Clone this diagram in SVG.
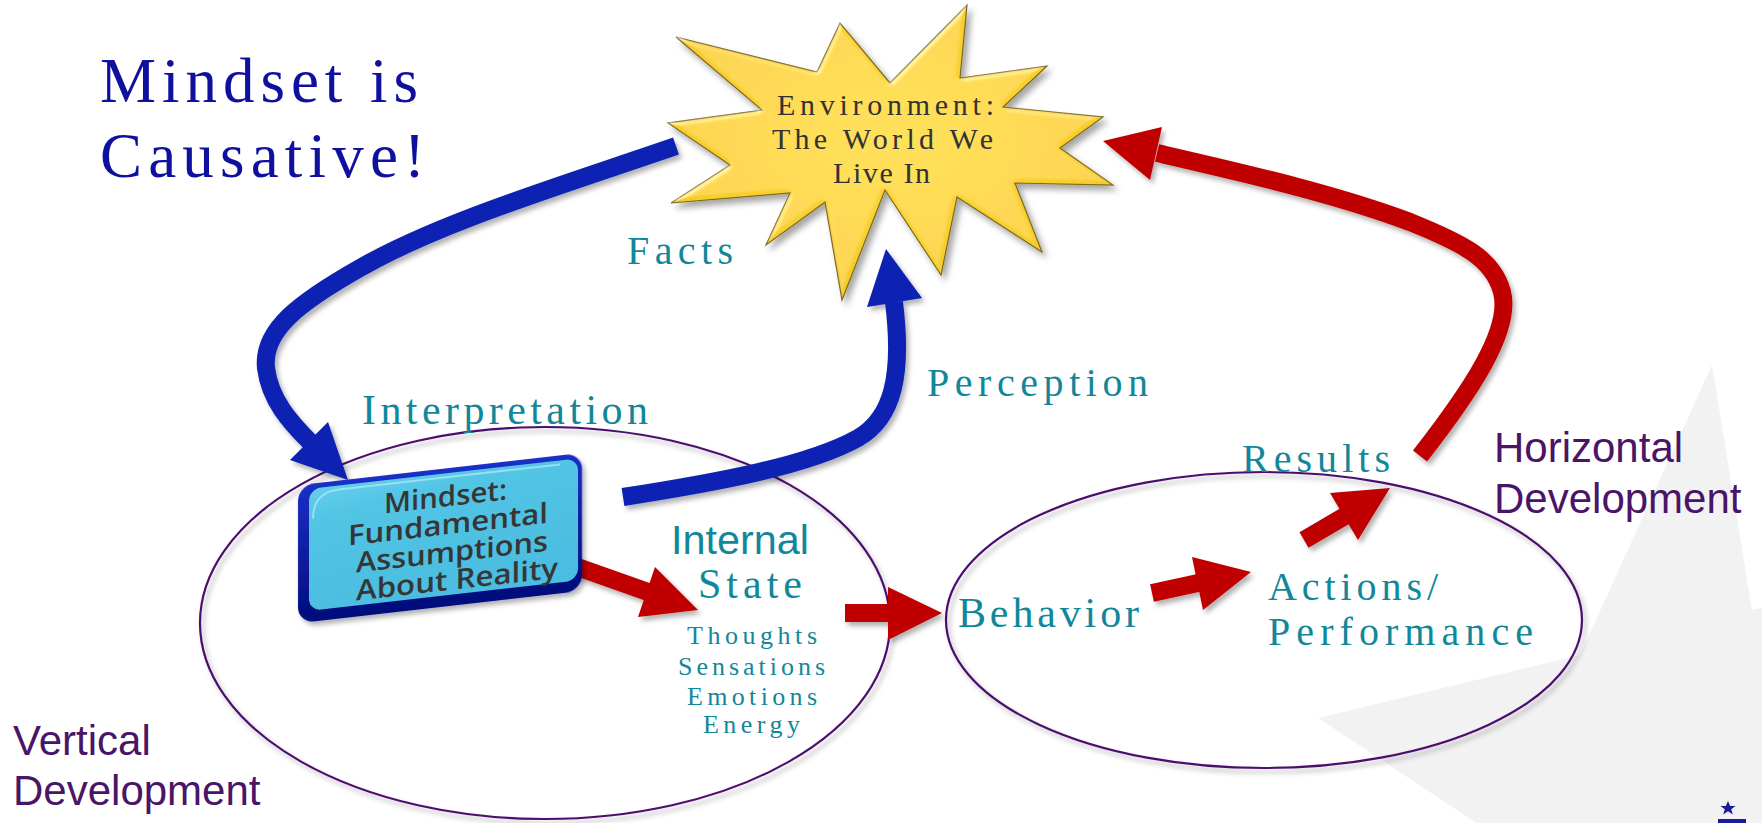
<svg xmlns="http://www.w3.org/2000/svg" width="1762" height="823" viewBox="0 0 1762 823">
  <defs>
    <style>
      .serif { font-family: "Liberation Serif", "Times New Roman", serif; }
      .sans { font-family: "Liberation Sans", Arial, sans-serif; }
      .title { fill: #10109e; font-size: 63px; }
      .teal { fill: #12879a; }
      .dev { fill: #4a1468; font-size: 42px; }
      .ring { fill: none; stroke: #4b0f6e; stroke-width: 2.2; filter: url(#soft); }
      .blue { fill: none; stroke: #0a22b2; stroke-width: 18; stroke-linecap: butt; }
      .blueHead { fill: #0a22b2; }
      .red { fill: none; stroke: #c00000; stroke-width: 18; stroke-linecap: butt; }
      .redHead { fill: #c00000; }
      .boxText { font-family: "Open Sans", "DejaVu Sans", sans-serif; font-weight: 600; font-size: 28px; fill: #363636; }
    </style>
    <filter id="soft" x="-10%" y="-10%" width="125%" height="130%">
      <feDropShadow dx="3" dy="4" stdDeviation="2.5" flood-color="#000" flood-opacity="0.3"/>
    </filter>
    <filter id="bevel" x="-10%" y="-10%" width="125%" height="130%">
      <feGaussianBlur in="SourceAlpha" stdDeviation="2.5" result="blur"/>
      <feSpecularLighting in="blur" surfaceScale="3" specularConstant="0.6" specularExponent="16" lighting-color="#ffffff" result="spec">
        <feDistantLight azimuth="235" elevation="40"/>
      </feSpecularLighting>
      <feComposite in="spec" in2="SourceAlpha" operator="in" result="specIn"/>
      <feComposite in="SourceGraphic" in2="specIn" operator="arithmetic" k1="0" k2="1" k3="0.5" k4="0" result="lit"/>
      <feOffset in="SourceAlpha" dx="4" dy="5" result="off"/>
      <feGaussianBlur in="off" stdDeviation="3" result="sh"/>
      <feFlood flood-color="#000" flood-opacity="0.35"/>
      <feComposite in2="sh" operator="in" result="shadow"/>
      <feMerge>
        <feMergeNode in="shadow"/>
        <feMergeNode in="lit"/>
      </feMerge>
    </filter>
    <radialGradient id="sun" cx="0.5" cy="0.45" r="0.6">
      <stop offset="0" stop-color="#fed93a"/>
      <stop offset="1" stop-color="#f3c926"/>
    </radialGradient>
    <linearGradient id="boxEdge" x1="0" y1="0" x2="0" y2="1">
      <stop offset="0" stop-color="#1a30c8"/>
      <stop offset="1" stop-color="#000c7a"/>
    </linearGradient>
    <linearGradient id="boxFace" x1="0" y1="0" x2="0.3" y2="1">
      <stop offset="0" stop-color="#63cfeb"/>
      <stop offset="0.25" stop-color="#52c4e4"/>
      <stop offset="1" stop-color="#4bbde0"/>
    </linearGradient>
  </defs>

  <rect width="1762" height="823" fill="#ffffff"/>

  <!-- faint background star in the lower right corner -->
  <polygon points="1712,365 1752,610 1800,600 1800,830 1487,830 1318,718 1580,655" fill="#f2f2f2"/>

  <!-- logo remnant in the corner -->
  <g id="logo" fill="#1a1a9a">
    <polygon points="1728,801 1730.2,806 1735.5,806 1731.2,809.2 1732.8,814.5 1728,811.3 1723.2,814.5 1724.8,809.2 1720.5,806 1725.8,806"/>
    <rect x="1718" y="819" width="28" height="4"/>
  </g>

  <!-- heading -->
  <g id="heading" class="serif title">
    <text x="100" y="102" textLength="318" lengthAdjust="spacing">Mindset is</text>
    <text x="100" y="177" textLength="325" lengthAdjust="spacing">Causative!</text>
  </g>

  <!-- development regions -->
  <g id="vertical-region">
    <ellipse class="ring" cx="545" cy="623" rx="345" ry="196"/>
  </g>
  <g id="horizontal-region">
    <ellipse class="ring" cx="1264" cy="620" rx="318" ry="148"/>
  </g>

  <!-- connectors -->
  <g id="connectors" filter="url(#soft)">
    <g id="facts-to-mindset">
      <path class="blue" d="M676,146 C560,186 440,222 360,268 C300,302 262,330 266,368 C270,400 290,422 310,442"/>
      <polygon class="blueHead" points="290,460 328,422 348,480"/>
    </g>
    <g id="mindset-to-environment">
      <path class="blue" d="M623,497 C720,482 810,465 858,438 C893,418 903,375 894,302"/>
      <polygon class="blueHead" points="867,307 922,298 886,249"/>
    </g>
    <g id="mindset-to-state">
      <path class="red" d="M566,563 L648,592"/>
      <polygon class="redHead" points="655,567 638,617 698,610"/>
    </g>
    <g id="state-to-behavior">
      <path class="red" d="M845,613 L890,613"/>
      <polygon class="redHead" points="888,587 888,640 942,613"/>
    </g>
    <g id="behavior-to-actions">
      <path class="red" d="M1152,593 L1198,583"/>
      <polygon class="redHead" points="1192,557 1203,610 1251,572"/>
    </g>
    <g id="actions-to-results">
      <path class="red" d="M1304,540 L1345,516"/>
      <polygon class="redHead" points="1330,493 1358,540 1390,488"/>
    </g>
    <g id="results-to-environment">
      <path class="red" d="M1420,456 C1470,392 1512,330 1502,292 C1493,258 1462,243 1410,222 C1330,192 1230,170 1157,153"/>
      <polygon class="redHead" points="1162,127 1150,180 1103,141"/>
    </g>
  </g>

  <!-- environment burst -->
  <g id="environment">
    <polygon filter="url(#bevel)" fill="url(#sun)" stroke="#7e6a18" stroke-width="1.2"
      points="676,37 817,72 840,23 890,83 967,5 960,78 1047,66 1003,107 1103,117 1060,148 1113,185 1015,183 1042,252 957,197 941,275 885,190 842,300 825,202 766,245 790,193 671,203 730,165 668,123 762,110"/>
    <g class="serif" fill="#333333" font-size="30px">
      <text x="777" y="115" textLength="217" lengthAdjust="spacing">Environment:</text>
      <text x="772" y="149" textLength="221" lengthAdjust="spacing">The World We</text>
      <text x="833" y="183" textLength="97" lengthAdjust="spacing">Live In</text>
    </g>
  </g>

  <!-- mindset box, drawn in a slanted frame -->
  <g id="mindset" transform="translate(300,0) skewY(-6.5) translate(-300,0)">
    <rect x="298" y="485" width="284" height="138" rx="16" fill="url(#boxEdge)" filter="url(#soft)"/>
    <rect x="309" y="490" width="269" height="122" rx="12" fill="url(#boxFace)"/>
    <path d="M313,520 Q313,494 339,494 L560,494" fill="none" stroke="#a9e6f6" stroke-width="2" opacity="0.8"/>
    <g class="boxText">
      <text x="384" y="523" textLength="123" lengthAdjust="spacingAndGlyphs">Mindset:</text>
      <text x="348" y="551" textLength="200" lengthAdjust="spacingAndGlyphs">Fundamental</text>
      <text x="356" y="579" textLength="192" lengthAdjust="spacingAndGlyphs">Assumptions</text>
      <text x="356" y="607" textLength="202" lengthAdjust="spacingAndGlyphs">About Reality</text>
    </g>
  </g>

  <!-- flow labels -->
  <g id="labels" class="teal">
    <text class="serif" x="627" y="264" font-size="40" textLength="106" lengthAdjust="spacing">Facts</text>
    <text class="serif" x="362" y="424" font-size="42" textLength="286" lengthAdjust="spacing">Interpretation</text>
    <text class="serif" x="927" y="396" font-size="40" textLength="221" lengthAdjust="spacing">Perception</text>
    <text class="serif" x="1242" y="472" font-size="40" textLength="148" lengthAdjust="spacing">Results</text>
  </g>

  <g id="internal-state" class="teal">
    <text class="sans" x="671" y="554" font-size="40" textLength="138" lengthAdjust="spacingAndGlyphs">Internal</text>
    <text class="serif" x="698" y="598" font-size="42" textLength="104" lengthAdjust="spacing">State</text>
    <g class="serif" font-size="26">
      <text x="687" y="644" textLength="130" lengthAdjust="spacing">Thoughts</text>
      <text x="678" y="675" textLength="147" lengthAdjust="spacing">Sensations</text>
      <text x="687" y="705" textLength="130" lengthAdjust="spacing">Emotions</text>
      <text x="703" y="733" textLength="97" lengthAdjust="spacing">Energy</text>
    </g>
  </g>

  <g id="behavior" class="teal">
    <text class="serif" x="958" y="627" font-size="42" textLength="181" lengthAdjust="spacing">Behavior</text>
  </g>

  <g id="actions" class="teal serif" font-size="40">
    <text x="1268" y="600" textLength="170" lengthAdjust="spacing">Actions/</text>
    <text x="1268" y="645" textLength="265" lengthAdjust="spacing">Performance</text>
  </g>

  <g id="horizontal-label" class="sans dev">
    <text x="1494" y="462">Horizontal</text>
    <text x="1494" y="513">Development</text>
  </g>

  <g id="vertical-label" class="sans dev">
    <text x="13" y="755">Vertical</text>
    <text x="13" y="805">Development</text>
  </g>
</svg>
